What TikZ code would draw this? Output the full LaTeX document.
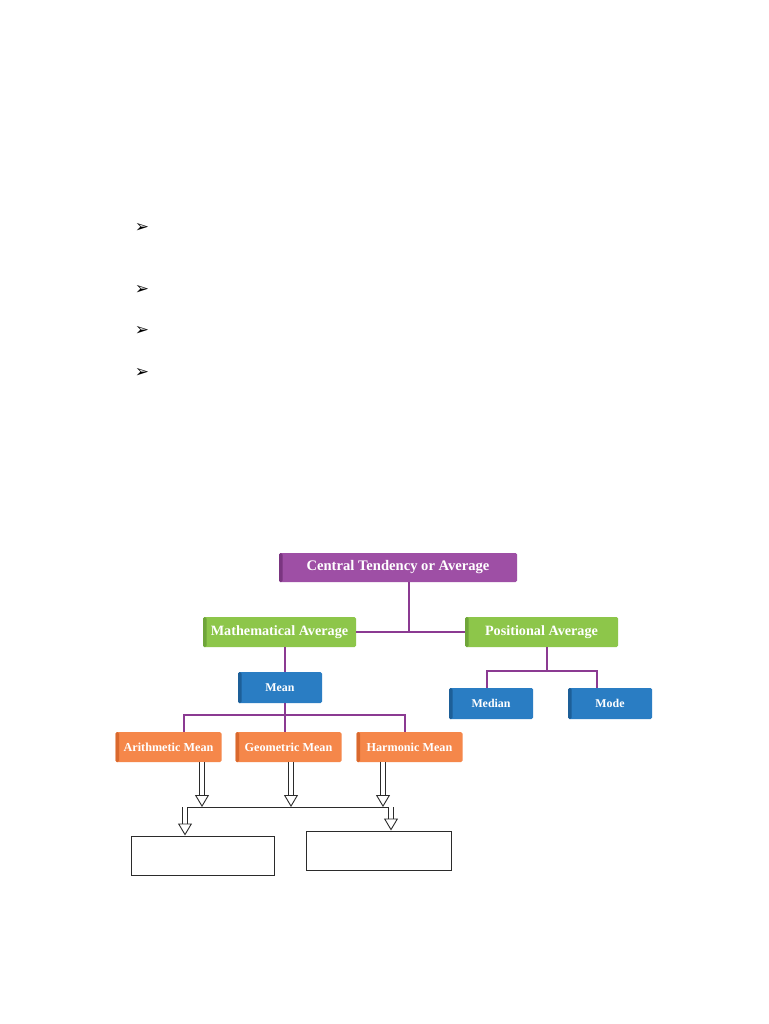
\documentclass[tikz,border=0pt]{standalone}
\usepackage{fontspec}
\setmainfont{Liberation Serif}
\newfontfamily\dingfont{DejaVu Sans}
\usetikzlibrary{arrows.meta,positioning,calc}
\definecolor{topfill}{HTML}{9E4FA5}
\definecolor{topside}{HTML}{7A3580}
\definecolor{greenfill}{HTML}{8DC64A}
\definecolor{greenside}{HTML}{6FA53A}
\definecolor{bluefill}{HTML}{2A7DC3}
\definecolor{blueside}{HTML}{1D5F98}
\definecolor{orangefill}{HTML}{F5874A}
\definecolor{orangeside}{HTML}{D9692E}
\definecolor{linkc}{HTML}{8B3A92}
\definecolor{ink}{HTML}{2B2B2B}
\tikzset{
  >=Latex,
  every node/.style={text=white},
  side/.style={path picture={\fill[#1] (path picture bounding box.south west) rectangle ([xshift=3.5pt]path picture bounding box.north west);}},
  box/.style={rounded corners=1.5pt,align=center,inner sep=2pt},
  topbox/.style={box,fill=topfill,side=topside,minimum width=238pt,minimum height=29pt,font=\fontsize{14.6}{16}\selectfont\bfseries},
  greenbox/.style={box,fill=greenfill,side=greenside,minimum width=153pt,minimum height=30pt,font=\fontsize{14.2}{16}\selectfont\bfseries},
  bluebox/.style={box,fill=bluefill,side=blueside,minimum width=84pt,minimum height=31pt,font=\fontsize{11.9}{13}\selectfont\bfseries},
  orangebox/.style={box,fill=orangefill,side=orangeside,minimum width=106pt,minimum height=30pt,font=\fontsize{12.2}{13}\selectfont\bfseries},
  plain/.style={draw=ink,line width=1pt,fill=white,minimum height=39pt},
  bullet/.style={text=black,font=\dingfont\fontsize{17}{17}\selectfont,inner sep=0pt},
  link/.style={draw=linkc,line width=1.3pt},
  bar/.style={draw=ink,line width=1pt},
  hollow/.style={draw=ink,double=white,double distance=4pt,line width=0.9pt,-{Triangle[open,length=12pt,width=14pt]}},
}
\begin{document}
\begin{tikzpicture}[x=1pt,y=-1pt]
\useasboundingbox[fill=white] (0,0) rectangle (768,1024);

% Bullets
\foreach \y [count=\i] in {228,290,331,373} \node[bullet] (b\i) at (142,\y) {➢};

% Top level
\node[topbox] (ct) at (398,567.5) {Central Tendency or Average};
\node[greenbox] (ma) at (279.5,632) {Mathematical Average};
\node[greenbox] (pa) at (541.5,632) {Positional Average};

% Second level
\node[bluebox] (mean) at (280,687.5) {Mean};
\node[bluebox] (median) at (491,703.5) {Median};
\node[bluebox] (mode) at (610,703.5) {Mode};

% Kinds of mean
\node[orangebox] (am) at (168.5,747) {Arithmetic Mean};
\node[orangebox] (gm) at (288.5,747) {Geometric Mean};
\node[orangebox] (hm) at (409.5,747) {Harmonic Mean};

% Empty boxes
\node[plain,minimum width=143pt] (lb) at (202.5,855.5) {};
\node[plain,minimum width=145pt] (rb) at (378.5,850.5) {};

% Tree lines
\coordinate (j1) at (409,631);
\coordinate (j2) at (285,715);
\coordinate (j2l) at (184,715);
\coordinate (j2r) at (405,715);
\coordinate (j3) at (547,671);
\coordinate (j3l) at (487,671);
\coordinate (j3r) at (597,671);
\draw[link] (ma.east) -- (pa.west);
\draw[link] (ct.south -| j1) -- (j1);
\draw[link] (ma.south -| j2) -- (mean.north -| j2);
\draw[link] (mean.south -| j2) -- (j2);
\draw[link] (am.north -| j2l) -- (j2l) -- (j2r) -- (hm.north -| j2r);
\draw[link] (j2) -- (gm.north -| j2);
\draw[link] (pa.south -| j3) -- (j3);
\draw[link] (median.north -| j3l) -- (j3l) -- (j3r) -- (mode.north -| j3r);

% Hollow arrows
\coordinate (barl) at (185,807);
\coordinate (barr) at (391,807);
\coordinate (ka) at (202,807);
\coordinate (kg) at (291,807);
\coordinate (kh) at (383,807);
\draw[bar] (barl) -- (barr);
\draw[hollow] (am.south -| ka) -- (ka);
\draw[hollow] (gm.south -| kg) -- (kg);
\draw[hollow] (hm.south -| kh) -- (kh);
\draw[hollow] (barl) -- (lb.north -| barl);
\draw[hollow] (barr) -- (rb.north -| barr);

\end{tikzpicture}
\end{document}
